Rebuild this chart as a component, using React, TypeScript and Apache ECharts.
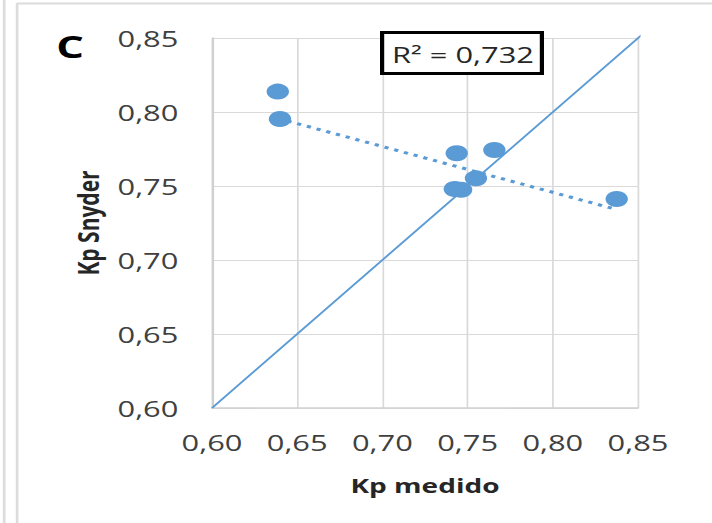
import React, { useEffect, useRef } from "react";
import * as echarts from "echarts";

// Tick values (both axes share the same scale)
const xTicks = [0.6, 0.65, 0.7, 0.75, 0.8, 0.85];
const yTicks = [0.6, 0.65, 0.7, 0.75, 0.8, 0.85];

// Kp medido (x) vs Kp Snyder (y)
const kpMedido = [0.6386, 0.6399, 0.7436, 0.7657, 0.7549, 0.7425, 0.7462, 0.8375];
const kpSnyder = [0.8138, 0.7953, 0.7721, 0.7743, 0.7552, 0.748, 0.7475, 0.7412];

// Linear trendline end points (dotted)
const trendX = [0.6386, 0.8375];
const trendY = [0.7957, 0.7341];

// 1:1 line
const identityX = [0.6, 0.854];
const identityY = [0.6, 0.854];

const panelLabel = "C";
const r2Label = "R² = 0,732";
const xName = "Kp medido";
const yName = "Kp Snyder";

const W = 508;
const H = 523;
const S = 712 / W;

const fmt = (v: number) => v.toFixed(2).replace(".", ",");

export default function App() {
  const ref = useRef<HTMLDivElement>(null);

  useEffect(() => {
    if (!ref.current) return;
    const chart = echarts.init(ref.current, null, { renderer: "svg" });
    const FONT = "Open Sans";
    const option: any = {
      animation: false,
      backgroundColor: "#ffffff",
      grid: {
        left: 212 / S,
        right: (712 - 638) / S,
        top: 38,
        bottom: H - 408,
        containLabel: false,
      },
      xAxis: {
        type: "value",
        min: xTicks[0],
        max: xTicks[xTicks.length - 1],
        interval: 0.05,
        name: xName,
        nameLocation: "middle",
        nameGap: 67,
        nameTextStyle: { fontFamily: FONT, fontSize: 20, fontWeight: "bold", color: "#262626" },
        axisLine: { show: true, lineStyle: { color: "#d0d0d0", width: 1.5 } },
        axisTick: { show: false },
        splitLine: { show: true, lineStyle: { color: "#d9d9d9", width: 1.2 } },
        axisLabel: {
          formatter: (v: number) => fmt(v),
          fontFamily: FONT,
          fontSize: 22,
          color: "#404040",
          margin: 23,
          showMinLabel: true,
          showMaxLabel: true,
        },
      },
      yAxis: {
        type: "value",
        min: yTicks[0],
        max: yTicks[yTicks.length - 1],
        interval: 0.05,
        name: yName,
        nameLocation: "middle",
        nameGap: 77,
        nameRotate: 90,
        nameTextStyle: { fontFamily: FONT, fontSize: 21, fontWeight: "bold", color: "#262626" },
        axisLine: { show: true, lineStyle: { color: "#d0d0d0", width: 1.5 } },
        axisTick: { show: false },
        splitLine: { show: true, lineStyle: { color: "#d9d9d9", width: 1.2 } },
        axisLabel: {
          formatter: (v: number) => fmt(v),
          fontFamily: FONT,
          fontSize: 22,
          color: "#404040",
          margin: 24,
          showMinLabel: true,
          showMaxLabel: true,
        },
      },
      series: [
        {
          type: "line",
          data: identityX.map((x, i) => [x, identityY[i]]),
          showSymbol: false,
          symbol: "none",
          clip: false,
          lineStyle: { color: "#5b9bd5", width: 1.6 },
          z: 1,
          silent: true,
        },
        {
          type: "scatter",
          data: kpMedido.map((x, i) => [x, kpSnyder[i]]),
          symbol: "circle",
          symbolSize: 16,
          itemStyle: { color: "#5b9bd5", opacity: 1 },
          z: 3,
        },
        {
          type: "line",
          data: trendX.map((x, i) => [x, trendY[i]]),
          showSymbol: false,
          symbol: "none",
          lineStyle: { color: "#5b9bd5", width: 3, type: [3, 4.4] },
          z: 4,
          silent: true,
        },
      ],
      graphic: [
        { type: "line", shape: { x1: 3, y1: 0, x2: 3, y2: H }, style: { stroke: "#dcdcdc", lineWidth: 1.9 } },
        { type: "line", shape: { x1: 12.2, y1: 3, x2: 12.2, y2: H }, style: { stroke: "#dcdcdc", lineWidth: 1.9 } },
        { type: "line", shape: { x1: 12.2, y1: 3.5, x2: W, y2: 3.5 }, style: { stroke: "#dcdcdc", lineWidth: 2 } },
        {
          type: "text",
          x: 70 / S,
          y: 46,
          style: {
            text: panelLabel,
            fontFamily: FONT,
            fontSize: 31,
            fontWeight: "bold",
            fill: "#000000",
            textAlign: "center",
            textVerticalAlign: "middle",
            verticalAlign: "middle",
          },
          z: 10,
        },
        {
          type: "rect",
          shape: { x: 380 / S + 1.5, y: 32.5, width: (544 - 380) / S - 3, height: 41 },
          style: { fill: "#ffffff", stroke: "#000000", lineWidth: 3 },
          z: 10,
        },
        {
          type: "text",
          x: 463 / S,
          y: 54,
          style: {
            text: r2Label,
            fontFamily: FONT,
            fontSize: 22,
            fill: "#262626",
            textAlign: "center",
            textVerticalAlign: "middle",
            verticalAlign: "middle",
          },
          z: 11,
        },
      ],
    };
    chart.setOption(option);
    return () => chart.dispose();
  }, []);

  return (
    <div
      style={{
        position: "absolute",
        left: 0,
        top: 0,
        width: 712,
        height: H,
        overflow: "hidden",
        background: "#ffffff",
      }}
    >
      <div
        ref={ref}
        style={{ width: W, height: H, transform: `scaleX(${S})`, transformOrigin: "0 0" }}
      />
    </div>
  );
}
